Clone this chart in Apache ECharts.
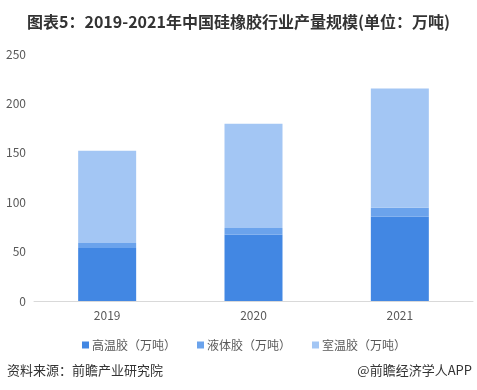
<!DOCTYPE html>
<html><head><meta charset="utf-8">
<script src="https://cdn.jsdelivr.net/npm/echarts@6/dist/echarts.min.js"></script>
<style>html,body{margin:0;padding:0;background:#fff}#c{width:477px;height:390px}</style>
</head><body><div id="c"></div>
<script>
const categories = ['2019', '2020', '2021'];
const highTemp = [53.7, 67, 85.2];
const liquid = [5.1, 7, 9.1];
const roomTemp = [93.2, 105.5, 120.7];
const seriesNames = ['高温胶（万吨）', '液体胶（万吨）', '室温胶（万吨）'];
const yTicks = { min: 0, max: 250, interval: 50 };

const font = '"Noto Sans CJK SC", "Microsoft YaHei", sans-serif';
const colors = ['#4287E3', '#6BA3EC', '#A3C6F4'];
const chart = echarts.init(document.getElementById('c'));
chart.setOption({
  animation: false,
  color: colors,
  textStyle: { fontFamily: font },
  title: [
    { text: '图表5：2019-2021年中国硅橡胶行业产量规模(单位：万吨)', left: 'center', top: 9,
      textStyle: { fontSize: 16, fontWeight: 'bold', color: '#333', fontFamily: font } },
    { text: '资料来源：前瞻产业研究院', left: 2, top: 359,
      textStyle: { fontSize: 13, fontWeight: 'normal', color: '#333', fontFamily: font } },
    { text: '@前瞻经济学人APP', right: 0, top: 359,
      textStyle: { fontSize: 13, fontWeight: 'normal', color: '#333', fontFamily: font } }
  ],
  legend: {
    data: seriesNames, top: 334, left: 77, icon: 'rect', itemWidth: 7, itemHeight: 7, itemGap: 21,
    textStyle: { fontSize: 12, color: '#595959', fontFamily: font, padding: [0, 0, 0, -2] }
  },
  grid: { left: 34, right: 4, top: 54, bottom: 89 },
  xAxis: {
    type: 'category', data: categories,
    axisLine: { lineStyle: { color: '#d9d9d9' } }, axisTick: { show: false },
    axisLabel: { color: '#595959', fontSize: 12, margin: 8 }
  },
  yAxis: {
    type: 'value', min: yTicks.min, max: yTicks.max, interval: yTicks.interval,
    splitLine: { show: false }, axisLine: { show: false }, axisTick: { show: false },
    axisLabel: { color: '#595959', fontSize: 12, margin: 8 }
  },
  series: [
    { name: seriesNames[0], type: 'bar', stack: 's', data: highTemp, barWidth: 58 },
    { name: seriesNames[1], type: 'bar', stack: 's', data: liquid, barWidth: 58 },
    { name: seriesNames[2], type: 'bar', stack: 's', data: roomTemp, barWidth: 58 }
  ]
});
</script></body></html>
